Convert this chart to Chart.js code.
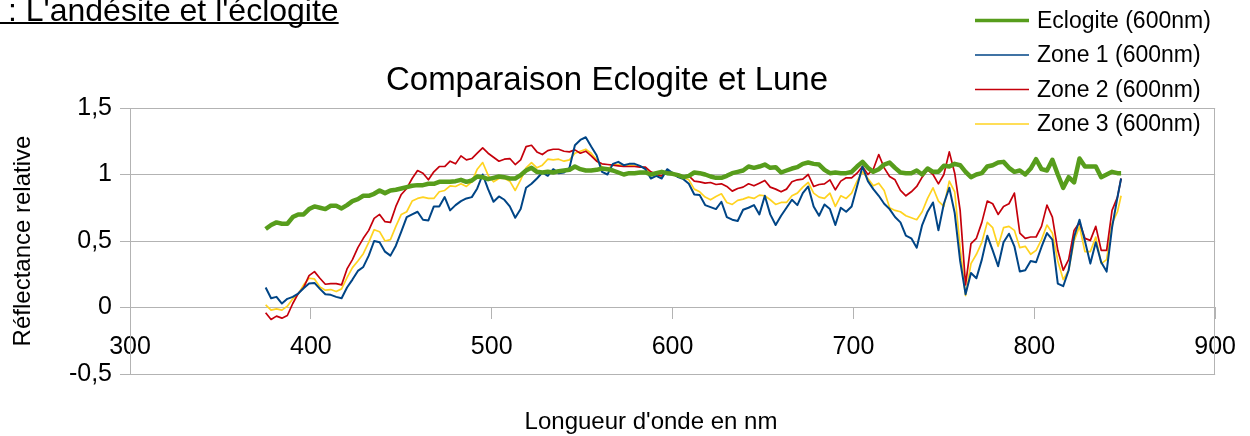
<!DOCTYPE html>
<html><head><meta charset="utf-8">
<script src="https://cdn.jsdelivr.net/npm/chart.js@4/dist/chart.umd.min.js"></script>
<style>
html,body{margin:0;padding:0;background:#fff;overflow:hidden}
#wrap{position:relative;width:1250px;height:436px}
canvas{position:absolute;left:0;top:0}
</style></head><body>
<div id="wrap"><canvas id="c" width="1250" height="436"></canvas></div>
<script>
const headerText = ": L'andésite et l'éclogite";
const chartTitle = "Comparaison Eclogite et Lune";
const xTitle = "Longueur d'onde en nm";
const yTitle = "Réflectance relative";
const seriesNames = ["Eclogite (600nm)", "Zone 1 (600nm)", "Zone 2 (600nm)", "Zone 3 (600nm)"];

const wavelengths = [375,378,381,384,387,390,393,396,399,402,405,408,411,414,417,420,423,426,429,432,435,438,441,444,447,450,
453,456,459,462,465,468,471,474,477,480,483,486,489,492,495,498,501,504,507,510,513,516,519,522,525,528,531,
534,537,540,543,546,549,552,555,558,561,564,567,570,573,576,579,582,585,588,591,594,597,600,603,606,609,612,
615,618,621,624,627,630,633,636,639,642,645,648,651,654,657,660,663,666,669,672,675,678,681,684,687,690,
693,696,699,702,705,708,711,714,717,720,723,726,729,732,735,738,741,744,747,750,753,756,759,762,765,768,771,
774,777,780,783,786,789,792,795,798,801,804,807,810,813,816,819,822,825,828,831,834,837,840,843,846,
848];

const eclogite = [0.59,0.62,0.64,0.63,0.63,0.68,0.70,0.70,0.74,0.76,0.75,0.74,0.765,0.765,0.745,0.77,0.80,0.815,0.84,0.84,0.855,0.88,0.86,0.88,0.885,0.895,
0.905,0.915,0.92,0.92,0.93,0.93,0.945,0.945,0.945,0.95,0.96,0.945,0.955,0.985,0.98,0.965,0.975,0.985,0.98,0.97,0.97,0.995,1.03,1.05,1.02,1.015,1.02,
1.015,1.025,1.03,1.035,1.06,1.04,1.03,1.03,1.035,1.045,1.04,1.03,1.015,1.0,1.01,1.01,1.015,1.015,1.0,1.01,1.02,1.01,1.005,0.995,0.98,0.99,1.015,
1.01,1.0,0.985,0.975,0.975,0.99,1.01,1.02,1.03,1.06,1.05,1.06,1.075,1.05,1.055,1.015,1.03,1.045,1.055,1.08,1.09,1.08,1.075,1.035,1.01,1.015,
1.01,1.01,1.02,1.06,1.095,1.05,1.02,1.04,1.075,1.09,1.05,1.015,1.01,1.01,1.03,1.0,1.045,1.02,1.02,1.065,1.06,1.08,1.07,1.02,0.98,1.0,1.01,
1.06,1.07,1.09,1.095,1.05,1.02,1.03,1.0,1.045,1.115,1.04,1.03,1.11,1.0,0.90,0.98,0.94,1.12,1.06,1.06,1.06,0.98,1.0,1.02,1.01,
1.01];

const zone1 = [0.15,0.07,0.08,0.03,0.065,0.08,0.105,0.145,0.18,0.185,0.14,0.10,0.095,0.08,0.07,0.15,0.21,0.275,0.305,0.39,0.50,0.49,0.42,0.39,0.465,0.57,
0.68,0.70,0.72,0.66,0.655,0.76,0.76,0.83,0.73,0.77,0.80,0.82,0.83,0.895,1.00,0.89,0.795,0.835,0.81,0.76,0.675,0.74,0.90,0.93,0.97,1.015,0.99,
1.04,1.01,1.015,1.05,1.22,1.26,1.28,1.21,1.145,1.02,1.00,1.08,1.095,1.07,1.08,1.08,1.065,1.04,0.97,0.99,0.97,1.04,1.01,0.98,0.965,0.93,0.85,
0.845,0.77,0.755,0.74,0.795,0.68,0.66,0.65,0.735,0.75,0.77,0.70,0.84,0.70,0.62,0.69,0.75,0.81,0.77,0.86,0.91,0.76,0.69,0.775,0.74,0.62,
0.75,0.72,0.76,0.91,1.06,0.95,0.89,0.84,0.78,0.74,0.68,0.64,0.54,0.52,0.45,0.62,0.72,0.79,0.58,0.78,0.90,0.71,0.35,0.10,0.26,0.22,0.36,
0.54,0.43,0.31,0.49,0.555,0.46,0.27,0.28,0.35,0.34,0.455,0.56,0.51,0.18,0.16,0.28,0.53,0.66,0.50,0.33,0.49,0.34,0.27,0.60,0.83,
0.97];

const zone2 = [-0.04,-0.09,-0.065,-0.08,-0.06,0.03,0.105,0.15,0.24,0.27,0.22,0.175,0.18,0.18,0.17,0.29,0.36,0.45,0.52,0.58,0.67,0.70,0.645,0.64,0.76,0.85,
0.895,0.97,1.03,1.01,0.96,1.02,1.06,1.06,1.10,1.08,1.14,1.11,1.12,1.16,1.20,1.16,1.13,1.10,1.115,1.12,1.075,1.11,1.21,1.22,1.17,1.15,1.18,
1.19,1.19,1.175,1.17,1.185,1.16,1.175,1.14,1.10,1.08,1.075,1.07,1.065,1.06,1.06,1.06,1.055,1.055,1.02,1.0,0.99,1.03,1.0,0.99,0.985,0.99,0.95,
0.945,0.935,0.94,0.925,0.93,0.91,0.875,0.895,0.905,0.93,0.915,0.935,0.955,0.905,0.89,0.87,0.89,0.945,0.96,0.965,1.0,0.91,0.925,0.93,0.96,0.885,
0.95,0.975,0.975,1.01,1.06,1.0,1.04,1.15,1.05,0.985,0.96,0.88,0.84,0.87,0.91,0.98,1.035,1.0,0.93,1.0,1.17,1.01,0.73,0.17,0.48,0.52,0.64,
0.80,0.78,0.70,0.76,0.78,0.86,0.56,0.52,0.53,0.53,0.61,0.77,0.68,0.43,0.28,0.36,0.58,0.64,0.52,0.505,0.61,0.43,0.43,0.73,0.83,
0.97];

const zone3 = [0.02,-0.02,-0.01,-0.02,0.01,0.065,0.10,0.17,0.22,0.215,0.155,0.13,0.135,0.12,0.14,0.225,0.30,0.35,0.405,0.49,0.585,0.57,0.50,0.51,0.61,0.70,
0.72,0.80,0.82,0.83,0.82,0.82,0.87,0.88,0.915,0.91,0.93,0.91,0.945,1.04,1.09,0.995,0.945,0.97,0.97,0.95,0.88,0.96,1.05,1.09,1.05,1.07,1.115,
1.11,1.115,1.10,1.11,1.16,1.175,1.19,1.16,1.11,1.055,1.04,1.07,1.075,1.065,1.07,1.065,1.06,1.05,1.0,1.0,0.985,1.03,1.0,0.985,0.975,0.96,0.89,
0.87,0.83,0.81,0.835,0.855,0.79,0.775,0.805,0.815,0.83,0.82,0.845,0.84,0.81,0.775,0.79,0.79,0.84,0.86,0.905,0.94,0.86,0.83,0.82,0.86,0.76,
0.84,0.82,0.86,0.95,1.02,0.97,0.915,0.935,0.88,0.75,0.73,0.72,0.69,0.675,0.66,0.72,0.82,0.90,0.80,0.76,0.95,0.87,0.45,0.09,0.33,0.40,0.49,
0.64,0.60,0.46,0.60,0.61,0.58,0.45,0.46,0.40,0.43,0.51,0.62,0.56,0.35,0.21,0.28,0.50,0.61,0.42,0.42,0.53,0.33,0.36,0.63,0.72,
0.84];

const xTicks = [300,400,500,600,700,800,900];
const yTicks = [-0.5,0,0.5,1,1.5];

const FONT = "'Liberation Sans', Arial, Helvetica, sans-serif";
const colors = ['#579d1c', '#004586', '#c5000b', '#ffd320'];
const widths = [4.5, 2, 1.7, 1.7];
const legendWidths = [3.5, 1.6, 1.6, 1.6];
const seriesValues = [eclogite, zone1, zone2, zone3];

const toPoints = arr => wavelengths.map((w, i) => ({x: w, y: arr[i]}));

const deco = {
  id: 'deco',
  beforeDatasetsDraw(chart) {
    const {ctx, chartArea: a} = chart;
    ctx.save();
    ctx.strokeStyle = '#b3b3b3';
    ctx.lineWidth = 1;
    ctx.strokeRect(Math.round(a.left) + 0.5, Math.round(a.top) + 0.5, Math.round(a.right - a.left) - 1, Math.round(a.bottom - a.top));
    ctx.restore();
  },
  afterDraw(chart) {
    const {ctx} = chart;
    ctx.save();
    ctx.fillStyle = '#000';
    ctx.font = '32px ' + FONT;
    ctx.textAlign = 'left';
    ctx.textBaseline = 'alphabetic';
    ctx.fillText(headerText, 8, 21);
    const hw = ctx.measureText(headerText).width;
    ctx.fillRect(0, 22, 8 + hw, 2);
    ctx.font = '33px ' + FONT;
    ctx.textAlign = 'center';
    ctx.fillText(chartTitle, 607, 90);
    ctx.font = '24px ' + FONT;
    ctx.textBaseline = 'middle';
    ctx.fillText(xTitle, 651, 422);
    ctx.save();
    ctx.translate(23, 241);
    ctx.rotate(-Math.PI / 2);
    ctx.fillText(yTitle, 0, 0);
    ctx.restore();
    const ys = [20.5, 55, 89.5, 124];
    ctx.font = '23px ' + FONT;
    ctx.textAlign = 'left';
    chart.data.datasets.forEach((ds, i) => {
      ctx.strokeStyle = ds.borderColor;
      ctx.lineWidth = legendWidths[i];
      ctx.beginPath();
      ctx.moveTo(975, ys[i]);
      ctx.lineTo(1029, ys[i]);
      ctx.stroke();
      ctx.fillStyle = '#000';
      ctx.fillText(ds.label, 1037, ys[i] + 1);
    });
    ctx.restore();
  }
};

new Chart(document.getElementById('c'), {
  type: 'line',
  data: {
    datasets: seriesNames.map((name, i) => ({
      label: name,
      data: toPoints(seriesValues[i]),
      borderColor: colors[i],
      backgroundColor: colors[i],
      borderWidth: widths[i],
      pointRadius: 0,
      tension: 0,
      fill: false,
      borderJoinStyle: 'round'
    }))
  },
  options: {
    responsive: false,
    animation: false,
    devicePixelRatio: 1,
    layout: {padding: {left: 0, right: 20, top: 108, bottom: 62}},
    plugins: {legend: {display: false}, title: {display: false}, tooltip: {enabled: false}},
    scales: {
      x: {
        type: 'linear', min: 300, max: 900,
        position: {y: 0},
        afterBuildTicks(s) { s.ticks = xTicks.map(v => ({value: v})); },
        ticks: {autoSkip: false, maxRotation: 0, padding: 14, color: '#000', font: {family: FONT, size: 25}},
        grid: {drawOnChartArea: false, drawTicks: true, tickLength: 11, color: '#b3b3b3'},
        border: {display: true, color: '#b3b3b3'}
      },
      y: {
        type: 'linear', min: -0.5, max: 1.5, position: 'left',
        afterBuildTicks(s) { s.ticks = yTicks.map(v => ({value: v})); },
        ticks: {padding: 8, color: '#000', font: {family: FONT, size: 25},
          callback: v => String(v).replace('.', ',')},
        grid: {color: '#b3b3b3', tickLength: 10},
        border: {display: true, color: '#b3b3b3'},
        afterFit(s) { s.width = 130; }
      }
    }
  },
  plugins: [deco]
});
</script>
</body></html>
